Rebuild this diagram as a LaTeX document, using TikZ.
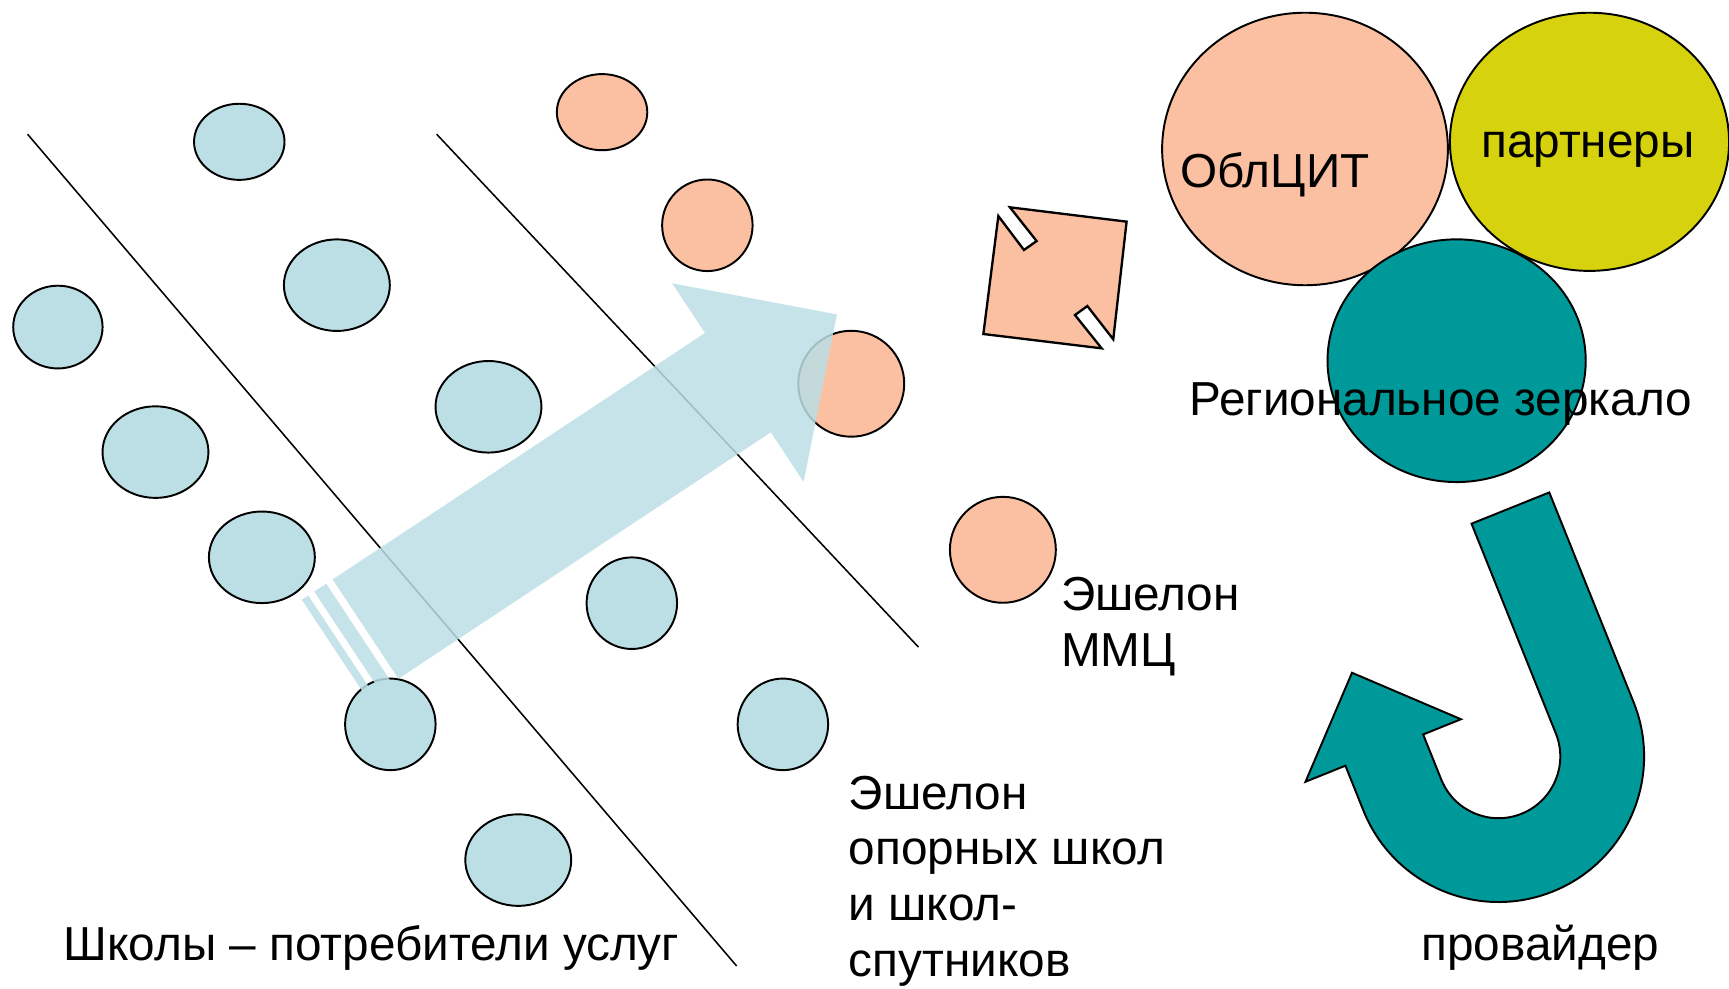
\documentclass[tikz,border=0pt]{standalone}
\usepackage{fontspec}
\setmainfont{Liberation Sans}
\usepackage{xcolor}
\usetikzlibrary{shapes.geometric, positioning}

\definecolor{schoolblue}{RGB}{187,223,228}
\definecolor{mmcsalmon}{RGB}{251,191,161}
\definecolor{partneryellow}{RGB}{214,210,14}
\definecolor{mirrorteal}{RGB}{0,153,153}

\begin{document}
\begin{tikzpicture}[
    x=0.01cm, y=-0.01cm,
    txt/.style={font=\fontsize{12.3}{14.4}\selectfont, inner sep=0pt, align=left},
    spot/.style={ellipse, draw=black, line width=0.5pt, inner sep=0pt, outer sep=0pt},
    school/.style={spot, fill=schoolblue},
    mmc/.style={spot, fill=mmcsalmon},
    ovalsm/.style={minimum width=0.82cm, minimum height=0.69cm},
    ovalwd/.style={minimum width=0.96cm, minimum height=0.83cm},
    ovalrd/.style={minimum width=0.82cm, minimum height=0.83cm},
    ovalbg/.style={minimum width=0.96cm, minimum height=0.96cm},
    border/.style={line width=0.4pt},
    bigarrow/.style={fill=schoolblue, fill opacity=0.85},
]

\fill[white] (0,0) rectangle (1568,896);
\useasboundingbox (0,0) rectangle (1568,896);

% Dividing lines
\coordinate (l1top) at (25,121.7);
\coordinate (l1bot) at (668,876);
\coordinate (l2top) at (396,121.7);
\coordinate (l2bot) at (833,586.9);
\draw[border] (l1top) -- (l1bot);
\draw[border] (l2top) -- (l2bot);

% Schools
\node[school, ovalsm] (school1) at (217,128.6) {};
\node[school, ovalwd] (school2) at (305.5,258.6) {};
\node[school, minimum width=0.81cm, minimum height=0.75cm] (school3) at (52.5,296.6) {};
\node[school, ovalwd] (school4) at (141,410) {};
\node[school, ovalwd] (school5) at (443,368.9) {};
\node[school, ovalwd] (school6) at (237.5,505.4) {};
\node[school, ovalrd] (school7) at (573,547) {};
\node[school, ovalrd] (school8) at (354,656.9) {};
\node[school, ovalrd] (school9) at (710,656.9) {};
\node[school, ovalwd] (school10) at (470,780) {};

% MMC echelon
\node[mmc, ovalsm] (mmc1) at (546,101.7) {};
\node[mmc, ovalrd] (mmc2) at (641.5,204.3) {};
\node[mmc, ovalbg] (mmc3) at (772,348) {};
\node[mmc, ovalbg] (mmc4) at (909.5,498.6) {};

% Regional level
\node[mmc, minimum width=2.59cm, minimum height=2.47cm] (oblcit) at (1183.5,135.1) {};
\node[spot, fill=partneryellow, minimum width=2.53cm, minimum height=2.34cm] (partners) at (1441.5,128.6) {};
\node[spot, fill=mirrorteal, minimum width=2.34cm, minimum height=2.20cm] (mirror) at (1321,327.1) {};

% Striped arrow
\begin{scope}[shift={(331.5,570.5)}, rotate=33.5]
  \fill[bigarrow] (0,-54) -- (405,-54) -- (405,-108) -- (514,-2) -- (405,108) -- (405,54) -- (0,54) -- cycle;
  \fill[bigarrow] (-20,-54) rectangle (-7,54);
  \fill[bigarrow] (-33.5,-54) rectangle (-26.5,54);
\end{scope}

% Exchange plaque
\draw[fill=mmcsalmon, line width=0.6pt] (891.8,302.9) -- (905.4,195.9) -- (928.6,226.7) -- (940.1,218.6)
  -- (915.9,188.0) -- (1021.7,201.0) -- (1009.6,307.7) -- (986.1,277.5) -- (974.9,285.7) -- (999.1,315.9) -- cycle;

% Provider U-turn
\begin{scope}[shift={(1359,686)}, y=0.01cm, rotate=21.9]
  \draw[fill=mirrorteal, line width=0.5pt] (56,205) -- (132,205) -- (132,0) arc(0:-180:132) -- (-132,44)
    -- (-171,44) -- (-95,120) -- (-19,44) -- (-56,44) -- (-56,0) arc(180:360:56) -- cycle;
\end{scope}

% Labels
\node[txt, anchor=base west] (oblcittext) at (1070,169.9) {ОблЦИТ};
\node[txt, anchor=base] (partnerstext) at (1440,143) {партнеры};
\node[txt, anchor=base west] (mirrortext) at (1078,376.4) {Региональное зеркало};
\node[txt, anchor=base west] (mmctext) at (961.6,604.6) {Эшелон\\ММЦ};
\node[txt, anchor=base west] (supporttext) at (769,885.7) {Эшелон\\опорных школ\\и школ-\\спутников};
\node[txt, anchor=base west] (schoolstext) at (57,870.6) {Школы – потребители услуг};
\node[txt, anchor=base] (providertext) at (1397,870.6) {провайдер};

\end{tikzpicture}
\end{document}
